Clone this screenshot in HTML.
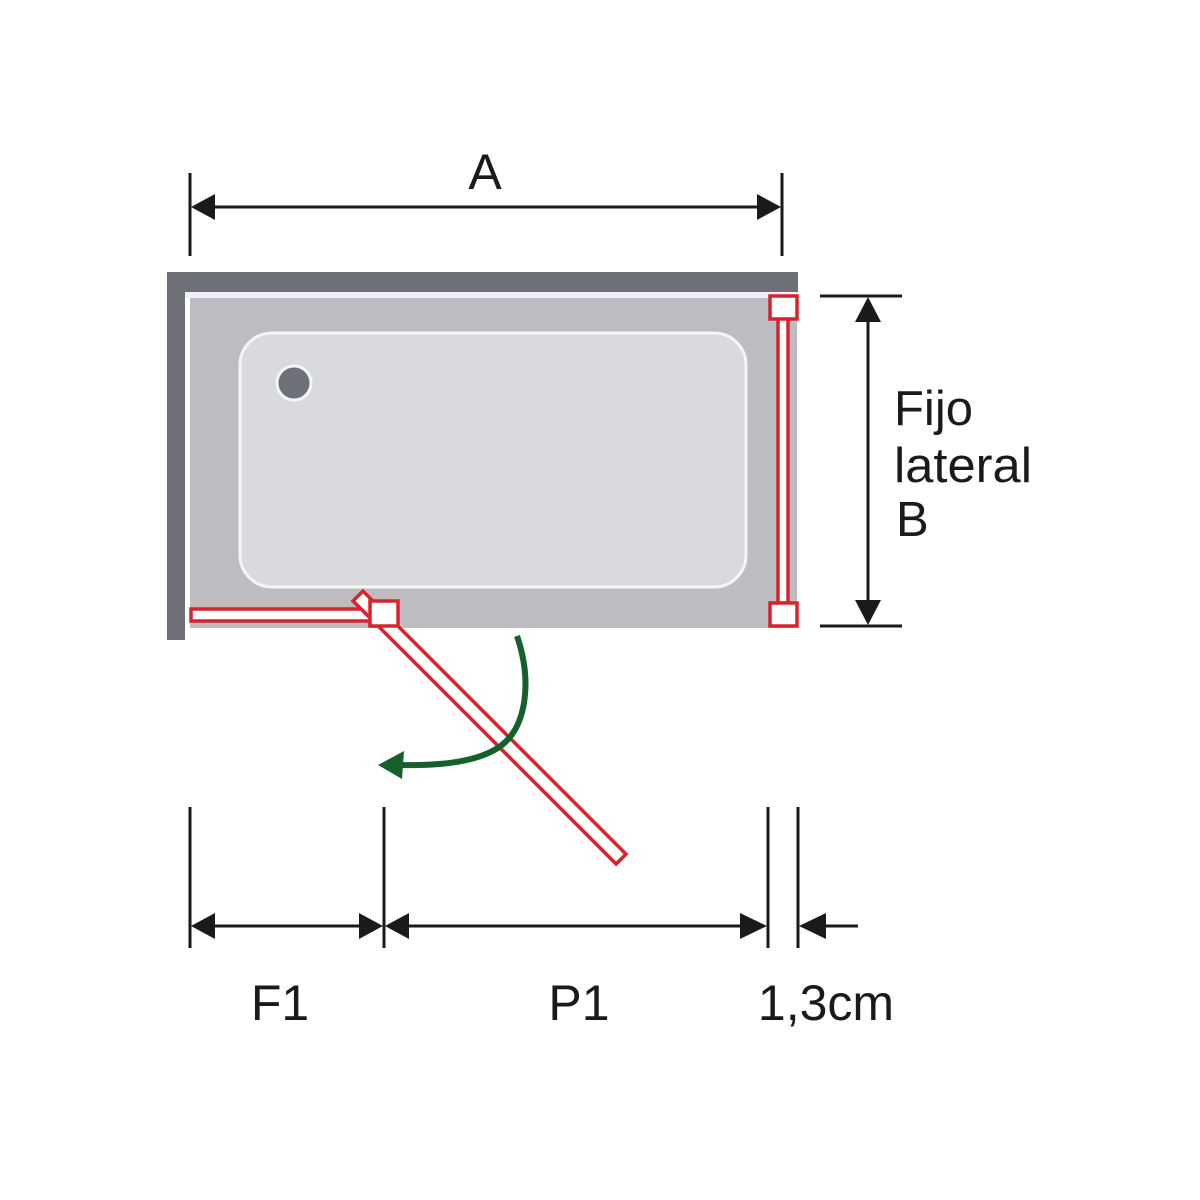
<!DOCTYPE html>
<html><head><meta charset="utf-8"><style>html,body{margin:0;padding:0;background:#fff}svg{display:block}</style></head>
<body>
<svg width="1200" height="1200" viewBox="0 0 1200 1200" xmlns="http://www.w3.org/2000/svg" font-family="Liberation Sans, Arial, sans-serif">
<rect width="1200" height="1200" fill="#fff"/>
<rect x="167" y="272" width="631" height="20" fill="#6f7178"/>
<rect x="167" y="272" width="18" height="368" fill="#6f7178"/>
<rect x="185" y="292" width="613" height="6" fill="#eef0f6"/>
<rect x="190" y="298" width="607" height="330" fill="#bdbdc1"/>
<rect x="240" y="333" width="506" height="254" rx="32" fill="#d9dadd" stroke="#f4f5f8" stroke-width="3"/>
<circle cx="294" cy="383" r="17" fill="#6f7178" stroke="#f4f5f8" stroke-width="3"/>
<g fill="#fff" stroke="#d8232f" stroke-width="3.5">
<rect x="778" y="318" width="10" height="285"/>
<rect x="770" y="296" width="27" height="23"/>
<rect x="770" y="603" width="27" height="23"/>
<rect x="191" y="609" width="180" height="12"/>
<g transform="translate(358,596) rotate(45)"><rect x="0" y="-7" width="372" height="14"/></g>
<rect x="370" y="601" width="28" height="25"/>
</g>
<path d="M517 636 C532 680 527 725 502 745 C480 762 440 766 400 765" fill="none" stroke="#15602b" stroke-width="6"/>
<polygon points="378,765 404,751 402,779" fill="#15602b"/>
<g stroke="#1a1a1a" stroke-width="3" fill="#1a1a1a">
<line x1="190" y1="173" x2="190" y2="256"/>
<line x1="782" y1="173" x2="782" y2="256"/>
<line x1="205" y1="207" x2="768" y2="207"/>
<polygon points="191,207 215,194 215,220" stroke="none"/>
<polygon points="781,207 757,194 757,220" stroke="none"/>
<line x1="820" y1="296" x2="902" y2="296"/>
<line x1="820" y1="626" x2="902" y2="626"/>
<line x1="868" y1="310" x2="868" y2="612"/>
<polygon points="868,297 855,322 881,322" stroke="none"/>
<polygon points="868,625 855,600 881,600" stroke="none"/>
<line x1="190" y1="807" x2="190" y2="948"/>
<line x1="384" y1="807" x2="384" y2="948"/>
<line x1="768" y1="807" x2="768" y2="948"/>
<line x1="798" y1="807" x2="798" y2="948"/>
<line x1="200" y1="926" x2="370" y2="926"/>
<line x1="400" y1="926" x2="752" y2="926"/>
<line x1="815" y1="926" x2="858" y2="926"/>
<polygon points="191,926 215,913 215,939" stroke="none"/>
<polygon points="383,926 359,913 359,939" stroke="none"/>
<polygon points="385,926 409,913 409,939" stroke="none"/>
<polygon points="767,926 740,913 740,939" stroke="none"/>
<polygon points="799,926 826,913 826,939" stroke="none"/>
</g>
<g fill="#1a1a1a" font-size="50">
<text x="485" y="189" text-anchor="middle">A</text>
<text x="894" y="425" font-size="49">Fijo</text>
<text x="894" y="482" font-size="49" textLength="138" lengthAdjust="spacingAndGlyphs">lateral</text>
<text x="896" y="536" font-size="49">B</text>
<text x="280" y="1020" text-anchor="middle">F1</text>
<text x="579" y="1020" text-anchor="middle">P1</text>
<text x="826" y="1020" text-anchor="middle">1,3cm</text>
</g>
</svg>
</body></html>
